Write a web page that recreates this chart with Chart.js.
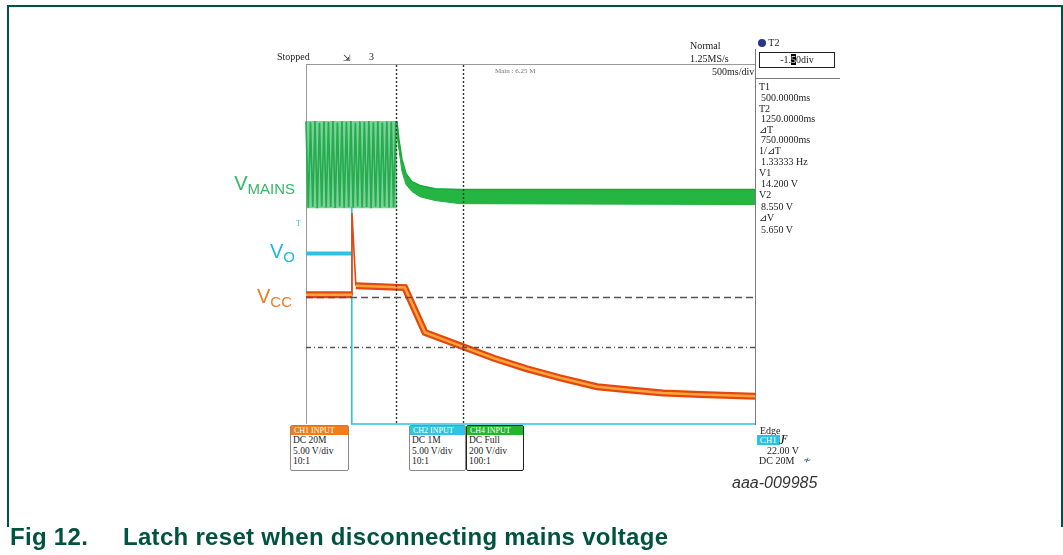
<!DOCTYPE html>
<html>
<head>
<meta charset="utf-8">
<script src="https://cdn.jsdelivr.net/npm/chart.js@4.4.0/dist/chart.umd.min.js"></script>
<style>
    body { margin: 0; background: #fff; }
    #contenedor { position: relative; width: 1063px; height: 555px; overflow: hidden; }
    #grafica { position: absolute; left: 0; top: 0; }
    .t { position: absolute; font: 10px "Liberation Serif", serif; line-height: 10px; color: #222; white-space: nowrap; }
    .etq { position: absolute; font: 20px "Liberation Sans", Arial, sans-serif; line-height: 20px; white-space: nowrap; text-align: right; }
    .etq span { font-size: 15px; position: relative; top: 4px; }
    .caja { position: absolute; border: 1px solid #8a8a8a; border-radius: 2px; background: #fff; }
    .caja .cab { height: 9px; color: #fff; font: 8px "Liberation Serif", serif; line-height: 9px; padding-left: 3px; }
    .caja .lin { font: 9.5px "Liberation Serif", serif; line-height: 10.5px; padding-left: 2px; color: #222; }
</style>
</head>
<body>
<div id="contenedor">
    <canvas id="grafica" width="1063" height="555"></canvas>
</div>
<script>
// Tiempo en ms (500 ms/div, 10 div), CH1/CH2 en V (5 V/div), CH4 en V (200 V/div)

// CH1: Vcc
const tiemposVcc = [-500, 10, 12, 55, 600, 825, 1250, 1600, 1960, 2330, 2740, 3110, 3475, 3890, 4500];
const voltajesVcc = [14.4, 14.4, 23.5, 15.4, 15.2, 10.2, 8.6, 7.3, 6.15, 5.15, 4.15, 3.8, 3.45, 3.3, 3.1];

// CH2: Vo
const tiemposVo = [-500, 10, 10, 10, 4500];
const voltajesVo = [19.0, 19.0, 24.2, 0, 0];

// CH4: Vmains antes de desconectar (oscilación)
const tiemposRed = [-500, -475, -450, -425, -400, -375, -350, -325, -300, -275, -250, -225, -200, -175, -150, -125, -100, -75, -50, -25,
    0, 25, 50, 75, 100, 125, 150, 175, 200, 225, 250, 275, 300, 325, 350, 375, 400, 425, 450, 475, 500];
const voltajesRed = [349, -36, 345, -32, 350, -38, 342, -30, 348, -35, 346, -33, 350, -37, 344, -31, 349, -36, 347, -34,
    350, -36, 343, -30, 348, -35, 346, -33, 350, -38, 345, -32, 349, -36, 344, -31, 348, -35, 347, -34, 349];
const envolventeSup = [350, 350];
const envolventeInf = [-38, -38];
const tiemposEnvolvente = [-500, 513];

// CH4: Vmains después de desconectar (banda)
const tiemposCaida = [513, 535, 569, 614, 680, 769, 937, 1215, 4500];
const caidaSup = [349, 268, 179, 116, 80, 63, 49, 45, 45];
const caidaInf = [290, 223, 125, 67, 36, 13, -4, -18, -22];

// Cursores
const cursoresT = [500, 1250];
const cursoresV = [14.2, 8.55];

function puntos(xs, ys) {
    return xs.map((x, i) => ({ x: x, y: ys[i] }));
}

// Marco del osciloscopio
const marcoOsciloscopio = {
    id: 'marco',
    beforeDatasetsDraw(chart) {
        const ctx = chart.ctx;
        const a = chart.chartArea;
        ctx.save();
        ctx.strokeStyle = '#9a9a9a';
        ctx.lineWidth = 1;
        ctx.beginPath();
        ctx.moveTo(a.left + 0.5, a.top);
        ctx.lineTo(a.left + 0.5, a.bottom);
        ctx.moveTo(a.left, a.top - 0.5);
        ctx.lineTo(a.right, a.top - 0.5);
        ctx.stroke();
        ctx.strokeStyle = '#7a7a7a';
        ctx.beginPath();
        ctx.moveTo(a.right + 0.5, a.top - 16);
        ctx.lineTo(a.right + 0.5, a.bottom + 1);
        ctx.moveTo(a.right, 78.5);
        ctx.lineTo(a.right + 85, 78.5);
        ctx.stroke();
        ctx.restore();
    }
};

// Cursores de tiempo y voltaje
const cursores = {
    id: 'cursores',
    afterDatasetsDraw(chart) {
        const ctx = chart.ctx;
        const a = chart.chartArea;
        const x = chart.scales.x;
        const y = chart.scales.y;
        ctx.save();
        ctx.strokeStyle = '#333';
        ctx.lineWidth = 1.4;
        ctx.setLineDash([2, 2]);
        cursoresT.forEach(t => {
            const px = Math.round(x.getPixelForValue(t)) + 0.5;
            ctx.beginPath();
            ctx.moveTo(px, a.top);
            ctx.lineTo(px, a.bottom);
            ctx.stroke();
        });
        ctx.strokeStyle = '#555';
        ctx.lineWidth = 1.3;
        const estilos = [[7, 4], [5, 3, 1, 3]];
        cursoresV.forEach((v, i) => {
            const py = Math.round(y.getPixelForValue(v)) + 0.5;
            ctx.setLineDash(estilos[i]);
            ctx.beginPath();
            ctx.moveTo(a.left, py);
            ctx.lineTo(a.right, py);
            ctx.stroke();
        });
        ctx.restore();
    }
};

const ctx = document.getElementById("grafica").getContext("2d");
const grafica = new Chart(ctx, {
    type: 'line',
    data: {
        datasets: [
            {
                // Vcc centro
                data: puntos(tiemposVcc, voltajesVcc),
                borderColor: '#fba43a',
                borderWidth: 2.5,
                order: 0,
                segment: {
                    borderColor: c => (c.p0DataIndex === 1 || c.p0DataIndex === 2) ? 'rgba(0,0,0,0)' : '#fba43a'
                }
            },
            {
                // Vcc borde
                data: puntos(tiemposVcc, voltajesVcc),
                borderColor: '#e5480e',
                borderWidth: 7,
                order: 1,
                segment: {
                    borderWidth: c => (c.p0DataIndex === 1 || c.p0DataIndex === 2) ? 1.6 : 7
                }
            },
            {
                // Vo
                data: puntos(tiemposVo, voltajesVo),
                borderColor: '#2cc3e0',
                borderWidth: 4,
                order: 2,
                segment: {
                    borderWidth: c => c.p0DataIndex === 0 ? 4 : 1.6
                }
            },
            {
                // Vmains oscilación
                data: puntos(tiemposRed, voltajesRed),
                yAxisID: 'y2',
                borderColor: '#26ab50',
                borderWidth: 1.7,
                order: 3
            },
            {
                data: puntos(tiemposEnvolvente, envolventeSup),
                yAxisID: 'y2',
                borderColor: 'rgba(0,0,0,0)',
                borderWidth: 0,
                order: 5
            },
            {
                data: puntos(tiemposEnvolvente, envolventeInf),
                yAxisID: 'y2',
                borderColor: 'rgba(0,0,0,0)',
                borderWidth: 0,
                backgroundColor: 'rgba(70,192,110,0.72)',
                fill: '-1',
                order: 4
            },
            {
                // Vmains después
                data: puntos(tiemposCaida, caidaSup),
                yAxisID: 'y2',
                borderColor: '#1aa83a',
                borderWidth: 1.5,
                order: 3
            },
            {
                data: puntos(tiemposCaida, caidaInf),
                yAxisID: 'y2',
                borderColor: '#22b23f',
                borderWidth: 1,
                backgroundColor: '#25b543',
                fill: '-1',
                order: 3
            }
        ]
    },
    options: {
        responsive: false,
        animation: false,
        layout: { padding: { left: 306, right: 308, top: 65, bottom: 131 } },
        plugins: { legend: { display: false }, tooltip: { enabled: false } },
        elements: { point: { radius: 0 }, line: { tension: 0 } },
        datasets: { line: { clip: false } },
        scales: {
            x: { type: 'linear', min: -500, max: 4500, display: false },
            y: { min: 0, max: 40, display: false },
            y2: { min: -1000, max: 600, display: false }
        }
    },
    plugins: [marcoOsciloscopio, cursores]
});

// Textos
const cont = document.getElementById("contenedor");

function texto(txt, x, y, estilo) {
    const d = document.createElement("div");
    d.className = "t";
    d.innerHTML = txt;
    d.style.left = x + "px";
    d.style.top = (y - 6) + "px";
    if (estilo) d.style.cssText += estilo;
    cont.appendChild(d);
    return d;
}

function etiqueta(letra, sub, derecha, arriba, color) {
    const d = document.createElement("div");
    d.className = "etq";
    d.innerHTML = letra + "<span>" + sub + "</span>";
    d.style.right = (1063 - derecha) + "px";
    d.style.top = arriba + "px";
    d.style.color = color;
    cont.appendChild(d);
}

function caja(x, y, ancho, color, lineas, borde) {
    const d = document.createElement("div");
    d.className = "caja";
    d.style.left = x + "px";
    d.style.top = y + "px";
    d.style.width = ancho + "px";
    d.style.height = "44px";
    if (borde) d.style.borderColor = borde;
    let html = '<div class="cab" style="background:' + color + '">' + lineas[0] + '</div>';
    for (let i = 1; i < lineas.length; i++) html += '<div class="lin">' + lineas[i] + '</div>';
    d.innerHTML = html;
    cont.appendChild(d);
}

// Marco de la figura
const marco = document.createElement("div");
marco.style.cssText = "position:absolute;left:7px;top:5px;width:1052px;height:520px;border:2px solid #00533f;border-bottom:none;";
cont.appendChild(marco);

// Cabecera del osciloscopio
texto("Stopped", 277, 58);
texto("&#8690;", 343, 59, "font-size:9px;font-family:'DejaVu Sans';");
texto("3", 369, 58);
texto("Normal", 690, 47);
texto("1.25MS/s", 690, 60);
texto("Main : 6.25 M", 495, 72, "font-size:7px;color:#777;");
texto("500ms/div", 712, 73);

// Panel de cursores
texto('<span style="display:inline-block;width:8px;height:8px;border-radius:4px;background:#27358a;vertical-align:-1px"></span> T2', 758, 44);
const cajaT2 = document.createElement("div");
cajaT2.style.cssText = "position:absolute;left:759px;top:52px;width:74px;height:14px;border:1px solid #222;font:10px 'Liberation Serif',serif;line-height:14px;text-align:center;color:#222;";
cajaT2.innerHTML = '-1.<span style="background:#000;color:#fff">5</span>0div';
cont.appendChild(cajaT2);

const panel = [
    ["T1", 759, 88], ["500.0000ms", 761, 99],
    ["T2", 759, 110], ["1250.0000ms", 761, 120],
    ["&#8895;T", 759, 131], ["750.0000ms", 761, 141],
    ["1/&#8895;T", 759, 152], ["1.33333 Hz", 761, 163],
    ["V1", 759, 174], ["14.200 V", 761, 185],
    ["V2", 759, 196], ["8.550 V", 761, 208],
    ["&#8895;V", 759, 219], ["5.650 V", 761, 231]
];
panel.forEach(p => texto(p[0], p[1], p[2]));

// Marcador de disparo
texto("T", 296, 225, "color:#2cc3e0;font-size:8px;");

// Etiquetas de las señales
etiqueta("V", "MAINS", 295, 173, "#33b865");
etiqueta("V", "O", 295, 241, "#22b6df");
etiqueta("V", "CC", 292, 286, "#f27a22");

// Cajas de canales
caja(290, 425, 57, "#f07d1a", ["CH1 INPUT", "DC 20M", "5.00 V/div", "10:1"]);
caja(409, 425, 55, "#2cc6e0", ["CH2 INPUT", "DC 1M", "5.00 V/div", "10:1"]);
caja(466, 425, 56, "#22b62c", ["CH4 INPUT", "DC Full", "200 V/div", "100:1"], "#222");

// Disparo
texto("Edge", 760, 432);
texto("CH1", 757, 441, "background:#2cc3e0;color:#fff;padding:0 3px;font-size:9px;");
texto("&#401;", 781, 440, "font-weight:bold;font-style:italic;");
texto("22.00 V", 767, 452);
texto("DC 20M", 759, 462);
texto("&#8769;", 803, 461, "color:#3355aa;font-family:'DejaVu Sans';font-style:italic;");

// Código de la figura
const codigo = document.createElement("div");
codigo.style.cssText = "position:absolute;left:732px;top:475px;font:italic 16px 'Liberation Sans',Arial,sans-serif;line-height:16px;color:#333;";
codigo.textContent = "aaa-009985";
cont.appendChild(codigo);

// Pie de figura
const pie = document.createElement("div");
pie.style.cssText = "position:absolute;left:10px;top:525px;font:bold 24px 'Liberation Sans',Arial,sans-serif;line-height:24px;letter-spacing:0.3px;color:#00533f;white-space:nowrap;";
pie.innerHTML = 'Fig 12.<span style="position:absolute;left:113px;">Latch reset when disconnecting mains voltage</span>';
cont.appendChild(pie);
</script>
</body>
</html>
